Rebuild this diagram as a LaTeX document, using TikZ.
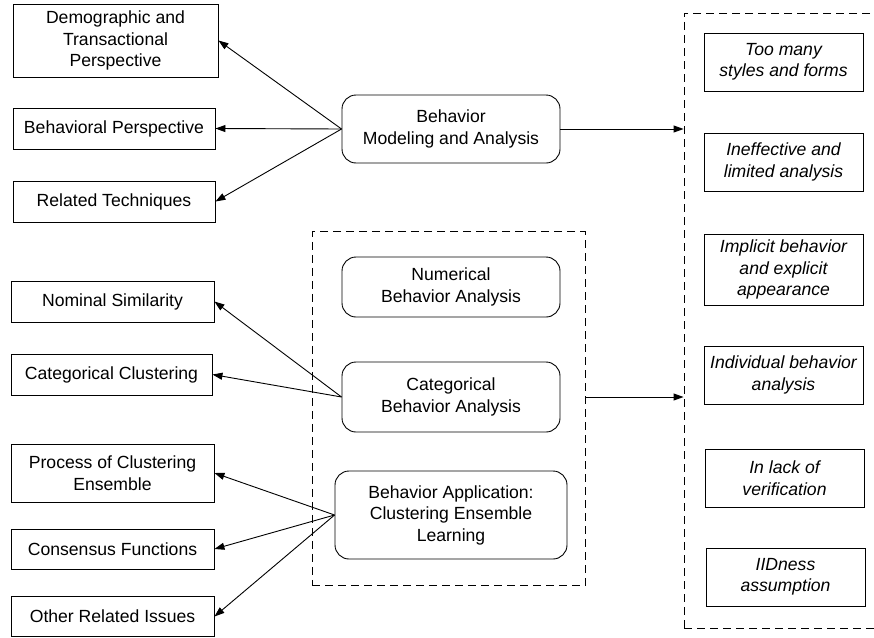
\documentclass[tikz,border=0pt]{standalone}
\usepackage{fontspec}
\setmainfont{Liberation Sans}
\usetikzlibrary{arrows.meta}
\begin{document}
\begin{tikzpicture}[x=1pt,y=-1pt,
  font=\fontsize{17.6}{21.5}\selectfont,
  box/.style={draw, line width=0.9pt, align=center, inner sep=0pt},
  rbox/.style={box, rounded corners=14pt},
  ibox/.style={box, font=\fontsize{17.6}{21.5}\selectfont\itshape},
  grp/.style={draw, dash pattern=on 8pt off 5pt, line width=0.9pt, inner sep=0pt},
  arr/.style={-{Triangle[length=10pt,width=7pt]}, line width=0.9pt}
]
\useasboundingbox (0,0) rectangle (874,637);
\clip (0,0) rectangle (874,637);

% dashed groups
\node[grp, minimum width=273pt, minimum height=354pt] (mid) at (448.5,408.75) {};
\node[grp, minimum width=260pt, minimum height=615pt] (issues) at (814,320.5) {};

% central analysis boxes
\node[rbox, minimum width=218pt, minimum height=68pt] (bma) at (451,129) {Behavior\\Modeling and Analysis};
\node[rbox, minimum width=218pt, minimum height=60pt] (num) at (451,287) {Numerical\\Behavior Analysis};
\node[rbox, minimum width=218pt, minimum height=70pt] (cat) at (451,397) {Categorical\\Behavior Analysis};
\node[rbox, minimum width=232pt, minimum height=88pt] (app) at (451,515) {Behavior Application:\\Clustering Ensemble\\Learning};

% left-hand topics
\node[box, minimum width=205pt, minimum height=73pt] (demo) at (115.5,40.5) {Demographic and\\Transactional\\Perspective};
\node[box, minimum width=202pt, minimum height=41pt] (behp) at (114,128.5) {Behavioral Perspective};
\node[box, minimum width=202pt, minimum height=41pt] (relt) at (114,201.5) {Related Techniques};
\node[box, minimum width=203pt, minimum height=41pt] (nom) at (112.5,301.5) {Nominal Similarity};
\node[box, minimum width=201pt, minimum height=41pt] (catc) at (111.5,374.5) {Categorical Clustering};
\node[box, minimum width=203pt, minimum height=58pt] (proc) at (112.5,473) {Process of Clustering\\Ensemble};
\node[box, minimum width=203pt, minimum height=40pt] (cons) at (112.5,549) {Consensus Functions};
\node[box, minimum width=203pt, minimum height=40pt] (other) at (112.5,616.5) {Other Related Issues};

% right-hand issues
\node[ibox, minimum width=159pt, minimum height=58pt] (r1) at (783.5,62) {Too many\\styles and forms};
\node[ibox, minimum width=159pt, minimum height=58pt] (r2) at (783.5,162) {Ineffective and\\limited analysis};
\node[ibox, minimum width=159pt, minimum height=71pt] (r3) at (783.5,269.5) {Implicit behavior\\and explicit\\appearance};
\node[ibox, minimum width=159pt, minimum height=58pt] (r4) at (783.5,375) {Individual behavior\\analysis};
\node[ibox, minimum width=159pt, minimum height=58pt] (r5) at (784.5,478) {In lack of\\verification};
\node[ibox, minimum width=159pt, minimum height=58pt] (r6) at (785.5,577) {IIDness\\assumption};

% connectors
\coordinate (in1) at (issues.west |- bma.east);
\coordinate (in2) at (issues.west |- cat.east);
\coordinate (out2) at (mid.east |- cat.east);

\draw[arr] (bma.west) -- (demo.east);
\draw[arr] (bma.west) -- (behp.east);
\draw[arr] (bma.west) -- (relt.east);
\draw[arr] (bma.east) -- (in1);

\draw[arr] (cat.west) -- (nom.east);
\draw[arr] (cat.west) -- (catc.east);

\draw[arr] (app.west) -- (proc.east);
\draw[arr] (app.west) -- (cons.east);
\draw[arr] (app.west) -- (other.east);

\draw[arr] (out2) -- (in2);
\end{tikzpicture}
\end{document}
